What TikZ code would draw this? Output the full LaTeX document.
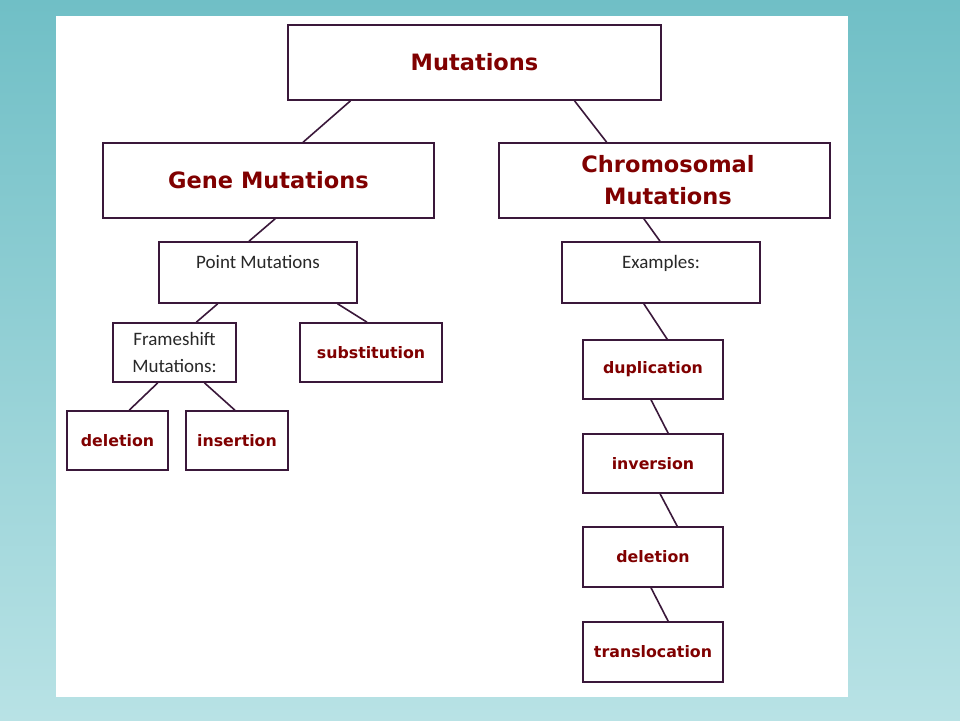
\documentclass[tikz,border=0pt]{standalone}
\usepackage{fontspec}
\usetikzlibrary{calc}
\newfontfamily\mutfont{DejaVu Sans}
\newfontfamily\notefont{Carlito}
\definecolor{boxline}{RGB}{58,24,58}
\definecolor{mutred}{RGB}{128,0,0}
\definecolor{notegray}{RGB}{40,40,40}
\definecolor{bgtop}{RGB}{112,191,198}
\definecolor{bgmid}{RGB}{158,198,202}
\definecolor{bgbot}{RGB}{184,226,229}
\def\link(#1:#2)(#3:#4){\draw[link] ($(#1.south west)!#2!(#1.south east)$) -- ($(#3.north west)!#4!(#3.north east)$);}
\tikzset{
	box/.style={draw=boxline, line width=1.6pt, fill=white, inner sep=0pt, align=center},
	bigbox/.style={box, text=mutred, font=\mutfont\bfseries\fontsize{22.5}{32}\selectfont},
	smallbox/.style={box, text=mutred, font=\mutfont\bfseries\fontsize{15.8}{19}\selectfont},
	notebox/.style={box, text=notegray, font=\notefont\fontsize{19}{27}\selectfont},
	toptext/.style={text height=12.5pt, text depth=21pt},
	link/.style={draw=boxline, line width=1.6pt}
}
\begin{document}
\begin{tikzpicture}[x=1pt, y=-1pt]
		%%%%% START %%%%%
		
		\shade[top color=bgtop, middle color=bgmid, bottom color=bgbot] (0, 0) rectangle (960, 720);
		\fill[white] (56, 16) rectangle (848, 697);
		
		\node[bigbox, minimum width=373, minimum height=75] (mut) at (474.5, 62.5) {Mutations};
		\node[bigbox, minimum width=331, minimum height=75] (gene) at (268.5, 180.5) {Gene Mutations};
		\node[bigbox, minimum width=331, minimum height=75, xshift=0] (chrom) at (664.5, 180.5) {\hspace*{7pt}Chromosomal\\\hspace*{7pt}Mutations};
		
		\node[notebox, toptext, minimum width=198, minimum height=61] (point) at (258, 272.5) {Point Mutations};
		\node[notebox, minimum width=123, minimum height=59] (frame) at (174.5, 352.5) {Frameshift\\Mutations:};
		\node[smallbox, minimum width=142, minimum height=59] (subst) at (371, 352.5) {substitution};
		\node[smallbox, minimum width=101, minimum height=59] (del) at (117.5, 440.5) {deletion};
		\node[smallbox, minimum width=102, minimum height=59] (ins) at (237, 440.5) {insertion};
		
		\node[notebox, toptext, minimum width=198, minimum height=61] (ex) at (661, 272.5) {Examples:};
		\node[smallbox, minimum width=140, minimum height=59] (dup) at (653, 369.5) {duplication};
		\node[smallbox, minimum width=140, minimum height=59] (inv) at (653, 463.5) {inversion};
		\node[smallbox, minimum width=140, minimum height=60] (delc) at (653, 557) {deletion};
		\node[smallbox, minimum width=140, minimum height=60] (trans) at (653, 652) {translocation};
		
		\link(mut:0.169)(gene:0.604)
		\link(mut:0.767)(chrom:0.326)
		
		\link(gene:0.52)(point:0.455)
		\link(point:0.298)(frame:0.675)
		\link(point:0.899)(subst:0.472)
		\link(frame:0.366)(del:0.614)
		\link(frame:0.74)(ins:0.48)
		
		\link(chrom:0.438)(ex:0.495)
		\link(ex:0.414)(dup:0.6)
		\link(dup:0.486)(inv:0.607)
		\link(inv:0.55)(delc:0.671)
		\link(delc:0.486)(trans:0.607)
		
		%%%%% END %%%%%
\end{tikzpicture}
\end{document}
